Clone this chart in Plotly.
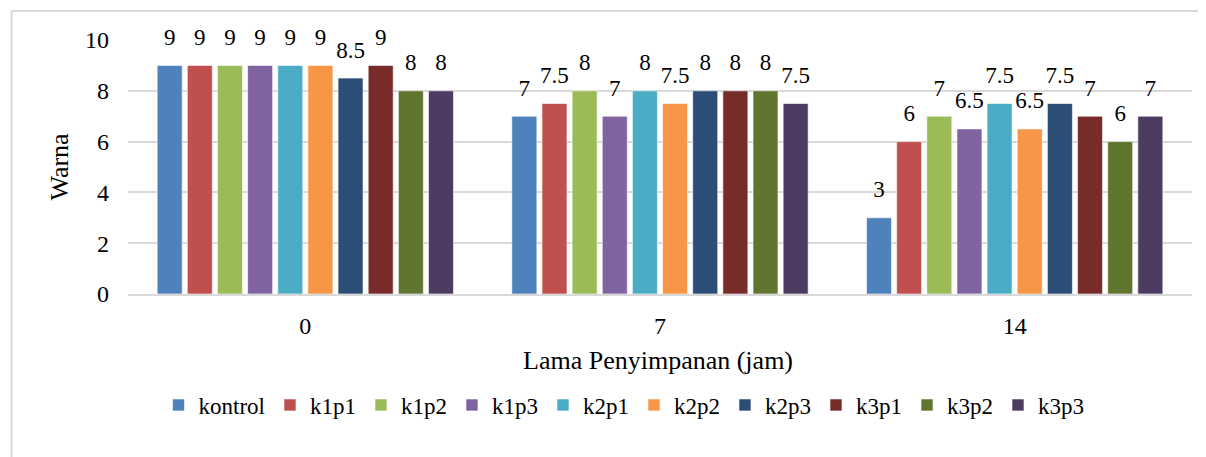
import plotly.graph_objects as go

categories = ["0", "7", "14"]
series_names = ["kontrol", "k1p1", "k1p2", "k1p3", "k2p1", "k2p2", "k2p3", "k3p1", "k3p2", "k3p3"]
kontrol = [9, 7, 3]
k1p1 = [9, 7.5, 6]
k1p2 = [9, 8, 7]
k1p3 = [9, 7, 6.5]
k2p1 = [9, 8, 7.5]
k2p2 = [9, 7.5, 6.5]
k2p3 = [8.5, 8, 7.5]
k3p1 = [9, 8, 7]
k3p2 = [8, 8, 6]
k3p3 = [8, 7.5, 7]
series_values = [kontrol, k1p1, k1p2, k1p3, k2p1, k2p2, k2p3, k3p1, k3p2, k3p3]
colors = ["#4F81BD", "#C0504D", "#9BBB59", "#8064A2", "#4BACC6",
          "#F79646", "#2C4D75", "#772C2A", "#5F7530", "#4D3B62"]

FONT = "Liberation Serif"

fig = go.Figure()
for name, vals, col in zip(series_names, series_values, colors):
    fig.add_trace(go.Bar(
        name=name, x=categories, y=vals, offsetgroup=name,
        marker=dict(color=col, line=dict(color="rgba(255,255,255,0.6)", width=1)),
    ))
# value labels: invisible grouped markers carrying the text above each bar
for name, vals in zip(series_names, series_values):
    fig.add_trace(go.Scatter(
        x=categories, y=vals, offsetgroup=name, mode="markers+text",
        marker=dict(size=22, color="rgba(0,0,0,0)"),
        text=[f"{v:g}" for v in vals], textposition="top center",
        textfont=dict(family=FONT, size=23, color="#000000"),
        showlegend=False, hoverinfo="skip", cliponaxis=False,
    ))

# page body has an 8px default margin; work in screen coordinates and shift
OFF = 8
W, H = 1206 - OFF, 457 - OFF
left, right, top, bottom = 127.5, 1192.5, 40, 294  # plot area in screen coords
ml = left - OFF
mr = W - (right - OFF)
mt = top - OFF
mb = H - (bottom - OFF)
pw, ph = right - left, bottom - top

def px(x):
    return (x - left) / pw

def py(y):
    return (bottom - y) / ph

fig.update_layout(
    width=W, height=H,
    margin=dict(l=ml, r=mr, t=mt, b=mb, pad=0),
    paper_bgcolor="white", plot_bgcolor="white",
    barmode="group", bargap=0.15, bargroupgap=0.17,
    scattermode="group", scattergap=0.15,
    font=dict(family=FONT, size=23, color="#000000"),
    showlegend=True,
    legend=dict(orientation="h", x=px(624), xanchor="center", y=py(405), yanchor="middle",
                font=dict(family=FONT, size=23, color="#000000"),
                itemwidth=30, traceorder="normal", tracegroupgap=0),
    xaxis=dict(showgrid=False, showline=True, linecolor="#d9d9d9", linewidth=2,
               ticks="", ticklen=0, ticklabelstandoff=9, tickfont=dict(family=FONT, size=24)),
    yaxis=dict(range=[0, 10], dtick=2, showgrid=True, gridcolor="#d9d9d9", gridwidth=2,
               zeroline=False, ticks="", ticklen=0, ticklabelstandoff=18,
               tickfont=dict(family=FONT, size=24)),
    annotations=[
        dict(text="Lama Penyimpanan (jam)", xref="paper", yref="paper",
             x=px(658), y=py(360), xanchor="center", yanchor="middle", showarrow=False,
             font=dict(family=FONT, size=26)),
        dict(text="Warna", xref="paper", yref="paper",
             x=px(58), y=py(167), xanchor="center", yanchor="middle", showarrow=False,
             textangle=-90, font=dict(family=FONT, size=26)),
    ],
    shapes=[
        dict(type="line", xref="paper", yref="paper", x0=px(11), x1=px(1206), y0=py(11), y1=py(11),
             line=dict(color="#d9d9d9", width=2)),
        dict(type="line", xref="paper", yref="paper", x0=px(11), x1=px(11), y0=py(11), y1=py(457),
             line=dict(color="#d9d9d9", width=2)),
    ],
)

fig.write_html("out.html")
